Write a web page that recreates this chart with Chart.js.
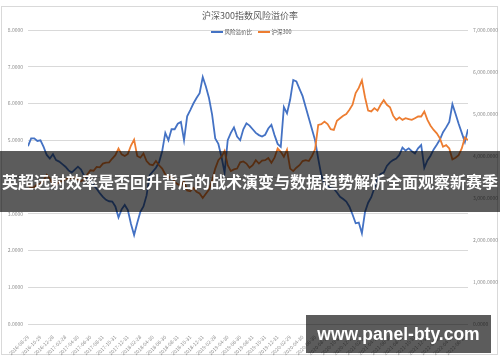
<!DOCTYPE html>
<html>
<head>
<meta charset="utf-8">
<script src="https://cdn.jsdelivr.net/npm/chart.js@4.4.1/dist/chart.umd.min.js"></script>
<style>
  html, body { margin: 0; padding: 0; background: #fff; }
  #wrap { position: relative; width: 500px; height: 362px; overflow: hidden; }
  #banner {
    position: absolute; left: 0; top: 151px; width: 500px; height: 61px;
    background: rgba(0, 0, 0, 0.64); color: #fff;
    font: bold 16px "Noto Sans CJK SC", sans-serif;
    line-height: 61px; text-align: center; white-space: nowrap; letter-spacing: 0;
  }
  #mark {
    position: absolute; left: 306px; top: 315px; width: 185px; height: 38px;
    background: rgba(0, 0, 0, 0.64); color: #fff;
    font: bold 17.5px "Liberation Sans", Arial, sans-serif;
    line-height: 38px; text-align: center; white-space: nowrap;
  }
</style>
</head>
<body>
<div id="wrap">
  <canvas id="riskChart" width="500" height="362"></canvas>
  <div id="banner">英超远射效率是否回升背后的战术演变与数据趋势解析全面观察新赛季</div>
  <div id="mark">www.panel-bty.com</div>
</div>
<script>
// half-month steps starting 2016-08-29
var tickLabels = ['2016-08-29', '2016-10-29', '2016-12-28', '2017-02-28', '2017-04-30', '2017-06-30',
  '2017-08-31', '2017-10-31', '2017-12-31', '2018-02-28', '2018-04-30', '2018-06-30',
  '2018-08-31', '2018-10-31', '2018-12-31', '2019-02-28', '2019-04-30', '2019-06-30',
  '2019-08-31', '2019-10-31', '2019-12-31', '2020-02-29', '2020-04-30', '2020-06-30',
  '2020-08-31', '2020-10-31', '2020-12-31', '2021-02-28', '2021-04-30', '2021-06-30',
  '2021-08-31', '2021-10-31', '2021-12-31', '2022-02-28', '2022-04-30', '2022-06-30'];

var premium = [
  4.84, 5.05, 5.05, 4.98, 5.0, 4.82, 4.6, 4.5, 4.62, 4.46,
  4.42, 4.35, 4.28, 4.18, 4.12, 4.2, 4.28, 4.2, 4.03, 3.96,
  3.9, 3.78, 3.68, 3.56, 3.46, 3.38, 3.34, 3.33, 3.2, 2.9,
  3.12, 3.24, 3.1, 2.72, 2.42, 2.75, 3.05, 3.2, 3.5, 4.05,
  4.15, 4.25, 4.4, 4.7, 5.2, 5.0, 5.3, 5.3, 5.45, 5.5,
  5.0, 5.65, 5.82, 6.0, 6.15, 6.28, 6.72, 6.46, 6.15, 5.7,
  5.05, 4.9, 4.55, 4.12, 5.0, 5.2, 5.35, 5.1, 5.0, 5.3,
  5.46, 5.4, 5.3, 5.2, 5.14, 5.1, 5.15, 5.32, 5.42, 5.14,
  4.9, 4.82, 5.9, 5.73, 6.1, 6.64, 6.6, 6.4, 6.2, 5.9,
  5.6, 5.3, 5.0, 4.5, 4.05, 3.8, 3.75, 3.7, 3.68, 3.58,
  3.46, 3.4, 3.33, 3.19, 2.98, 2.74, 2.76, 2.47, 3.05, 3.3,
  3.45, 3.7, 3.95, 4.08, 4.12, 4.3, 4.4, 4.46, 4.5, 4.6,
  4.8, 4.72, 4.78, 4.7, 4.64, 4.78, 4.87, 4.25, 4.45, 4.58,
  4.75, 4.88, 5.02, 5.22, 5.35, 5.5, 5.98, 5.72, 5.45, 5.2,
  4.95, 5.3
];

var csi300 = [
  3310, 3240, 3260, 3330, 3340, 3420, 3550, 3460, 3320, 3310,
  3390, 3400, 3450, 3480, 3470, 3500, 3440, 3400, 3450, 3560,
  3660, 3650, 3740, 3730, 3820, 3840, 3850, 3940, 4020, 4180,
  4040, 4000, 4050, 4250, 4390, 4000, 3960, 4060, 3880, 3800,
  3780, 3880, 3780, 3700, 3560, 3480, 3520, 3380, 3330, 3290,
  3400, 3180, 3160, 3240, 3150, 3110, 3000, 3100, 3200, 3420,
  3700, 3900, 3980, 4120, 3780, 3640, 3680, 3700, 3850, 3870,
  3820, 3720, 3780, 3900, 3820, 3890, 3900, 3950, 3840, 3960,
  4180, 4100, 3980, 4150, 3700, 3640, 3720, 3780, 3880, 3900,
  3880, 4000, 4160, 4740, 4760, 4820, 4760, 4640, 4620, 4840,
  4900, 4960, 5000, 5100, 5220, 5500, 5620, 5800, 5400, 5080,
  5060, 5140, 5080, 5220, 5330, 5220, 5160, 4960, 4860, 4920,
  4860, 4900, 4880, 4860, 4900, 4940, 4940, 5060, 4860, 4720,
  4620, 4540, 4420, 4220, 4260, 4180, 3920, 3960, 4020, 4180,
  4440, 4380
];

function toPoints(arr) {
  return arr.map(function (v, i) { return { x: i / 2, y: v }; });
}

Chart.defaults.font.family = '"Noto Sans CJK SC", "Noto Sans", sans-serif';
Chart.defaults.color = '#7f7f7f';

// chart frame, drawn before everything
var framePlugin = {
  id: 'frame',
  beforeDraw: function (chart) {
    var c = chart.ctx;
    c.save();
    c.fillStyle = '#fff';
    c.fillRect(0, 0, chart.width, chart.height);
    c.strokeStyle = '#d9d9d9';
    c.lineWidth = 1;
    c.strokeRect(1.5, 6.5, 496, 348);
    c.restore();
  }
};

// excel-like legend that sits over the top of the plot
var legendPlugin = {
  id: 'inlineLegend',
  afterDraw: function (chart) {
    var c = chart.ctx;
    var items = [
      { ds: chart.data.datasets[1], x: 211 },
      { ds: chart.data.datasets[0], x: 258 }
    ];
    c.save();
    c.font = '5.5px "Noto Sans CJK SC", sans-serif';
    c.textBaseline = 'middle';
    items.forEach(function (it) {
      c.strokeStyle = it.ds.borderColor;
      c.lineWidth = 2;
      c.beginPath();
      c.moveTo(it.x, 32);
      c.lineTo(it.x + 12, 32);
      c.stroke();
      c.fillStyle = '#595959';
      c.fillText(it.ds.label, it.x + 13.5, 32);
    });
    c.restore();
  }
};

var ctx = document.getElementById('riskChart').getContext('2d');
var riskChart = new Chart(ctx, {
  type: 'line',
  data: {
    datasets: [{
      label: '沪深300',
      data: toPoints(csi300),
      yAxisID: 'y1',
      borderColor: '#ED7D31',
      borderWidth: 1.8,
      pointRadius: 0,
      tension: 0
    }, {
      label: '风险溢价比',
      data: toPoints(premium),
      yAxisID: 'y',
      borderColor: '#4472C4',
      borderWidth: 1.8,
      pointRadius: 0,
      tension: 0
    }]
  },
  options: {
    responsive: false,
    animation: false,
    layout: { padding: 0 },
    plugins: {
      legend: { display: false },
      tooltip: { enabled: false },
      title: {
        display: true,
        text: '沪深300指数风险溢价率',
        color: '#595959',
        font: { size: 9, weight: 'normal' },
        padding: { top: 10, bottom: 9.2 }
      }
    },
    scales: {
      x: {
        type: 'linear',
        min: 0,
        max: (premium.length - 1) / 2,
        grid: { display: false },
        border: { display: false },
        ticks: {
          stepSize: 2,
          includeBounds: false,
          autoSkip: false,
          maxRotation: 45,
          minRotation: 45,
          padding: 2,
          font: { size: 5 },
          color: '#8c8c8c',
          callback: function (v) { return tickLabels[v / 2] || ''; }
        },
        afterFit: function (s) { s.height = 38; }
      },
      y: {
        position: 'left',
        min: 0,
        max: 8,
        grid: { color: '#d9d9d9', drawTicks: false },
        border: { display: false },
        ticks: {
          stepSize: 1,
          padding: 5,
          font: { size: 5 },
          color: '#8c8c8c',
          callback: function (v) { return v.toFixed(4); }
        },
        afterFit: function (s) { s.width = 28; }
      },
      y1: {
        position: 'right',
        min: 0,
        max: 7000,
        grid: { display: false, drawTicks: false },
        border: { display: false },
        ticks: {
          stepSize: 1000,
          padding: 5,
          font: { size: 5 },
          color: '#8c8c8c',
          callback: function (v) {
            return v.toLocaleString('en-US', { minimumFractionDigits: 4, maximumFractionDigits: 4 });
          }
        },
        afterFit: function (s) { s.width = 32; }
      }
    }
  },
  plugins: [framePlugin, legendPlugin]
});
</script>
</body>
</html>
